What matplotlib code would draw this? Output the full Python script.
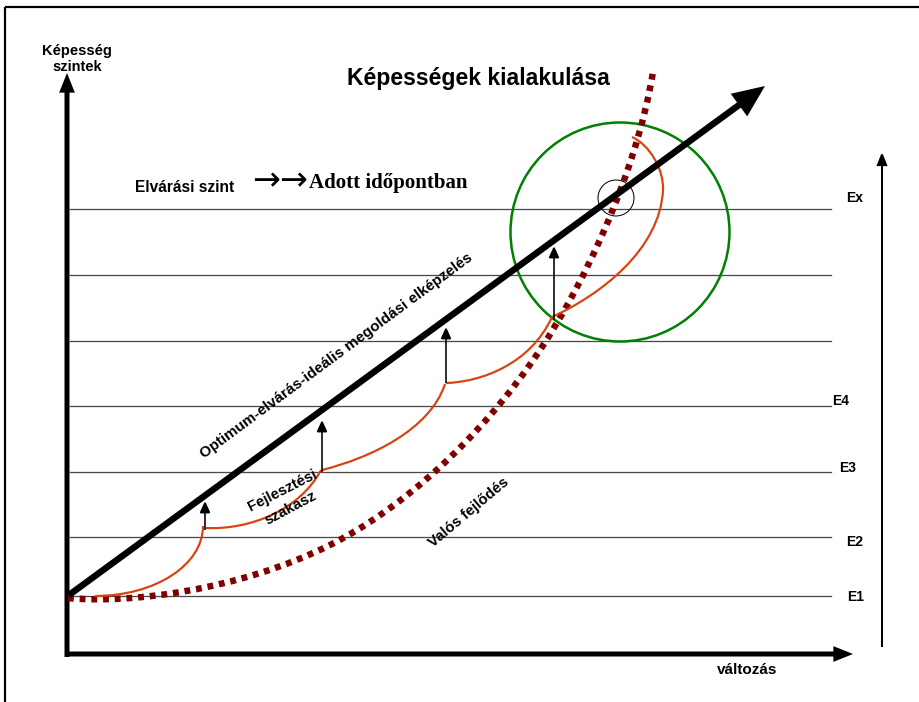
import matplotlib
matplotlib.use("Agg")
import matplotlib.pyplot as plt
from matplotlib.path import Path
from matplotlib.patches import PathPatch, Circle, FancyArrowPatch, ArrowStyle

# ---------------- data (diagram coordinates, y grows downward) ----------------
level_y = [209, 275, 341, 406, 472, 537, 596]
level_labels = ["Ex", "", "", "E4", "E3", "E2", "E1"]

ideal_line = [(69, 595), (765, 86)]          # Optimum-elvárás line (start, tip)

# "Valós fejlődés" – cubic Bezier control points
real_curve = [(68, 598),
              (130, 604), (240, 590), (330, 545),
              (400, 510), (480, 440), (540, 350),
              (580, 290), (635, 180), (653, 72)]

# "Fejlesztési szakasz" – development segments (cubic Bezier control points)
dev_segments = [
    [(95, 596), (155, 596), (203, 565), (203, 526)],
    [(206, 528), (250, 530), (300, 510), (321, 470)],
    [(322, 470), (370, 458), (430, 430), (445, 384)],
    [(446, 383), (480, 382), (530, 365), (552, 317)],
    [(552, 317), (600, 295), (660, 250), (663, 190),
     (664, 170), (650, 145), (632, 137)],
]

step_x = [205, 322, 446, 554]
step_from = [530, 472, 383, 320]
step_to = [501, 420, 327, 246]

target_circle = (620, 232, 109.5)
point_circle = (616, 198, 18)

# ---------------- figure ----------------
PX = 0.72  # points per pixel at dpi=100
fig = plt.figure(figsize=(9.2, 7.02), dpi=100)
ax = fig.add_axes([0, 0, 1, 1])
ax.set_xlim(0, 920)
ax.set_ylim(702, 0)
ax.axis("off")

SANS = ["Liberation Sans", "DejaVu Sans"]
SERIF = ["Liberation Serif", "DejaVu Serif"]

# outer frame (top and left edges visible)
ax.plot([5, 925], [7, 7], color="black", lw=2.2 * PX, solid_capstyle="butt")
ax.plot([5, 5], [7, 710], color="black", lw=2.2 * PX, solid_capstyle="butt")

# level lines
for y in level_y:
    ax.plot([70, 831], [y, y], color="#4a4a4a", lw=1.3 * PX, zorder=1)

label_x = {"Ex": 855, "E4": 841, "E3": 848, "E2": 855, "E1": 856}
label_dy = {"Ex": -11, "E4": -5, "E3": -4, "E2": 5, "E1": 1}
for y, lab in zip(level_y, level_labels):
    if lab:
        ax.text(label_x[lab], y + label_dy[lab], lab, family=SANS, weight="bold",
                fontsize=10, ha="center", va="center")


def arrow(p0, p1, lw_px, hl_pt, hw_pt, color="black", z=3):
    st = ArrowStyle("-|>", head_length=hl_pt, head_width=hw_pt)
    a = FancyArrowPatch(p0, p1, arrowstyle=st, mutation_scale=1, lw=lw_px * PX,
                        color=color, shrinkA=0, shrinkB=0, zorder=z,
                        joinstyle="miter", capstyle="butt")
    ax.add_patch(a)


# axes arrows
arrow((67, 657), (67, 73), 5, 7.5, 3.0)
arrow((65, 654), (853, 654), 5, 7.5, 3.0)
# right-hand arrow
arrow((882, 647), (882, 152), 2, 7.5, 3.0)

# circles
cx, cy, r = target_circle
ax.add_patch(Circle((cx, cy), r, fill=False, ec="#008000", lw=2.5 * PX, zorder=2))
cx, cy, r = point_circle
ax.add_patch(Circle((cx, cy), r, fill=False, ec="black", lw=1.0 * PX, zorder=5))


def bezier_path(pts):
    codes = [Path.MOVETO] + [Path.CURVE4] * (len(pts) - 1)
    return Path(pts, codes)


# real development (dotted)
ax.add_patch(PathPatch(bezier_path(real_curve), fill=False, ec="#800000",
                       lw=6.5 * PX, linestyle=(0, (0.9, 0.9)), capstyle="butt",
                       zorder=3))

# development segments
for seg in dev_segments:
    ax.add_patch(PathPatch(bezier_path(seg), fill=False, ec="#d9430f",
                           lw=2.2 * PX, zorder=3))

# step arrows
for x, y0, y1 in zip(step_x, step_from, step_to):
    arrow((x, y0), (x, y1), 1.6, 7.0, 3.2, z=4)

# ideal line (thick arrow)
arrow(ideal_line[0], ideal_line[1], 6.5, 15.0, 6.5, z=4)

# ---------------- texts ----------------
ax.text(478, 78, "Képességek kialakulása", family=SANS, weight="bold",
        fontsize=16.6, ha="center", va="center")
ax.text(77, 59, "Képesség\nszintek", family=SANS, weight="bold", fontsize=10.5,
        ha="center", va="center", linespacing=1.1)
ax.text(747, 670, "változás", family=SANS, weight="bold", fontsize=11,
        ha="center", va="center")
ax.text(185, 188, "Elvárási szint", family=SANS, weight="bold", fontsize=11.2,
        ha="center", va="center")
ax.text(280, 181, "→→", family=["DejaVu Sans"], fontsize=24, ha="center",
        va="center")
ax.text(388, 183, "Adott időpontban", family=SERIF, weight="bold", fontsize=15,
        ha="center", va="center")

ax.text(336, 356, "Optimum-elvárás-ideális megoldási elképzelés", family=SANS,
        weight="bold", fontsize=10.9, ha="center", va="center", rotation=36.5,
        rotation_mode="anchor")
ax.text(283, 491, "Fejlesztési", family=SANS, weight="bold", fontsize=10.8,
        ha="center", va="center", rotation=27, rotation_mode="anchor")
ax.text(291, 508, "szakasz", family=SANS, weight="bold", fontsize=10.8,
        ha="center", va="center", rotation=28, rotation_mode="anchor")
ax.text(469, 512, "Valós fejlődés", family=SANS, weight="bold", fontsize=10.8,
        ha="center", va="center", rotation=40, rotation_mode="anchor")

fig.savefig("out.png", dpi=100)
